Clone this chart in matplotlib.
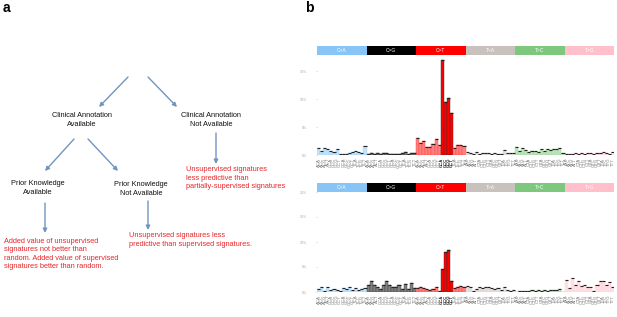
import numpy as np
import matplotlib
matplotlib.use('Agg')
import matplotlib.pyplot as plt
from matplotlib.colors import to_rgb

plt.rcParams['font.family'] = ['Liberation Sans', 'DejaVu Sans']

# ---- panel b data (percent of mutations per trinucleotide context) ----
mut_types = ['C>A', 'C>G', 'C>T', 'T>A', 'T>C', 'T>G']
type_colors = ['#86c5f5', '#000000', '#ff0000', '#c9c1bd', '#7dc87d', '#ffc0cb']
bases = ['A', 'C', 'G', 'T']

top_vals = [
    1.2, 0.8, 1.3, 1.0, 0.8, 0.6, 1.1, 0.2, 0.1, 0.2, 0.3, 0.6, 0.8, 0.5, 0.4, 1.6,   # C>A
    0.2, 0.3, 0.2, 0.3, 0.2, 0.4, 0.3, 0.2, 0.1, 0.2, 0.1, 0.3, 0.5, 0.2, 0.4, 0.3,   # C>G
    3.0, 2.2, 2.5, 1.5, 1.5, 1.9, 2.8, 1.8, 17.1, 9.5, 10.3, 7.6, 1.3, 1.8, 1.8, 1.7,  # C>T
    0.5, 0.3, 0.1, 0.6, 0.2, 0.3, 0.4, 0.3, 0.2, 0.3, 0.1, 0.2, 0.9, 0.3, 0.3, 0.4,   # T>A
    1.5, 0.8, 1.2, 0.9, 0.6, 0.7, 0.8, 0.6, 1.0, 0.8, 1.0, 0.9, 1.1, 1.0, 1.2, 0.3,   # T>C
    0.2, 0.1, 0.2, 0.3, 0.2, 0.3, 0.2, 0.3, 0.3, 0.2, 0.4, 0.3, 0.5, 0.3, 0.2, 0.6,   # T>G
]
bottom_vals = [
    0.7, 1.0, 0.3, 1.0, 0.5, 0.6, 0.4, 0.3, 0.8, 0.6, 1.0, 0.5, 0.8, 0.5, 0.7, 0.9,   # C>A
    1.4, 2.3, 1.4, 1.1, 0.6, 1.4, 2.3, 1.4, 1.0, 1.0, 1.4, 0.6, 1.6, 0.6, 1.8, 0.8,   # C>G
    0.8, 1.0, 0.8, 0.6, 0.5, 0.6, 1.1, 0.3, 4.6, 8.1, 8.5, 2.3, 0.8, 1.0, 1.3, 1.1,   # C>T
    1.2, 1.1, 0.2, 0.6, 1.0, 0.8, 1.1, 1.0, 0.8, 0.6, 0.8, 0.5, 1.0, 0.5, 0.3, 0.4,   # T>A
    0.1, 0.2, 0.2, 0.3, 0.3, 0.4, 0.3, 0.4, 0.3, 0.4, 0.3, 0.4, 0.5, 0.4, 0.6, 0.1,   # T>C
    2.4, 0.8, 2.8, 1.5, 2.3, 1.3, 1.5, 1.0, 1.1, 0.3, 1.5, 2.2, 2.2, 1.4, 2.1, 1.0,   # T>G
]
highlight = [40, 41, 42, 43]
top_ticks = [0, 5, 10, 15]
bottom_ticks = [0, 5, 10, 15, 20]

contexts = []
for mt in mut_types:
    for b5 in bases:
        for b3 in bases:
            contexts.append(b5 + mt[0] + b3)


def lighten(c, f=0.5):
    r, g, b = to_rgb(c)
    return (r + (1 - r) * f, g + (1 - g) * f, b + (1 - b) * f)


fig = plt.figure(figsize=(6.17, 3.17), dpi=100)

# ---- panel a: decision tree drawn in pixel coords ----
axa = fig.add_axes([0, 0, 1, 1])
axa.set_xlim(0, 617)
axa.set_ylim(317, 0)
axa.axis('off')

arrow_c = '#7096c0'
red = '#e8262b'
arrows = [((128, 77), (99, 107)), ((148, 77), (177, 107)),
          ((74, 139), (45, 171)), ((88, 139), (118, 171)),
          ((216, 133), (216, 164)), ((45, 203), (45, 233)),
          ((148, 201), (148, 230))]
for (x0, y0), (x1, y1) in arrows:
    axa.annotate('', xy=(x1, y1), xytext=(x0, y0),
                 arrowprops=dict(arrowstyle='-|>', color=arrow_c, lw=1.0,
                                 mutation_scale=6, shrinkA=0, shrinkB=0))

fs = 5.3
axa.text(82, 120, 'Clinical Annotation\nAvailable', ha='center', va='center',
         fontsize=fs, color='#111111', linespacing=1.25)
axa.text(211, 120, 'Clinical Annotation\nNot Available', ha='center', va='center',
         fontsize=fs, color='#111111', linespacing=1.25)
axa.text(38, 188, 'Prior Knowledge\nAvailable', ha='center', va='center',
         fontsize=fs, color='#111111', linespacing=1.25)
axa.text(141, 189, 'Prior Knowledge\nNot Available', ha='center', va='center',
         fontsize=fs, color='#111111', linespacing=1.25)
axa.text(186, 178, 'Unsupervised signatures\nless predictive than\npartially-supervised signatures',
         ha='left', va='center', fontsize=fs, color=red, linespacing=1.25)
axa.text(4, 254, 'Added value of unsupervised\nsignatures not better than\nrandom. Added value of supervised\nsignatures better than random.',
         ha='left', va='center', fontsize=fs, color=red, linespacing=1.25)
axa.text(129, 240, 'Unsupervised signatures less\npredictive than supervised signatures.',
         ha='left', va='center', fontsize=fs, color=red, linespacing=1.25)
axa.text(3, 8, 'a', ha='left', va='center', fontsize=10, fontweight='bold')
axa.text(305, 8, 'b', ha='left', va='center', fontsize=10, fontweight='bold')

# ---- panel b: two signature bar charts ----
left = 317 / 617
width = 297 / 617


def strip(bottom_px):
    ax = fig.add_axes([left, 1 - bottom_px / 317, width, 9 / 317])
    for i, (mt, c) in enumerate(zip(mut_types, type_colors)):
        ax.axvspan(i * 16 - 0.5, i * 16 + 15.5, color=c, lw=0)
        ax.text(i * 16 + 7.5, 0.5, mt, ha='center', va='center',
                fontsize=3.5, color='white')
    ax.set_xlim(-0.5, 95.5)
    ax.set_ylim(0, 1)
    ax.axis('off')


def bars(bottom_px, vals, ymax, ticks):
    ax = fig.add_axes([left, 1 - bottom_px / 317, width, 100 / 317])
    x = np.arange(len(vals))
    fills, edges = [], []
    for i in x:
        c = type_colors[i // 16]
        if i in highlight:
            fills.append(c)
            edges.append('#333333')
        else:
            fills.append(lighten(c, 0.5))
            edges.append(lighten(c, 0.25))
    ax.bar(x, vals, width=1.0, color=fills, edgecolor=edges, linewidth=0.3)
    ax.hlines(vals, x - 0.5, x + 0.5, color='#222222', lw=0.8)
    ax.set_xlim(-0.5, 95.5)
    ax.set_ylim(0, ymax)
    ax.set_yticks(ticks)
    ax.set_yticklabels(['%d%%' % t for t in ticks])
    ax.set_xticks(x)
    ax.set_xticklabels(contexts, rotation=90, fontsize=3.1, color='#777777')
    for i, lab in enumerate(ax.get_xticklabels()):
        if i in highlight:
            lab.set_color('#222222')
            lab.set_fontweight('bold')
    ax.tick_params(axis='x', length=0, pad=2)
    ax.tick_params(axis='y', length=1, width=0.4, colors='#aaaaaa',
                   labelsize=2.6, pad=6)
    for s in ax.spines.values():
        s.set_visible(False)
    return ax


strip(55)
bars(155, top_vals, 17.96, top_ticks)
strip(192)
bars(292, bottom_vals, 19.8, bottom_ticks)

fig.savefig('out.png', dpi=100)
